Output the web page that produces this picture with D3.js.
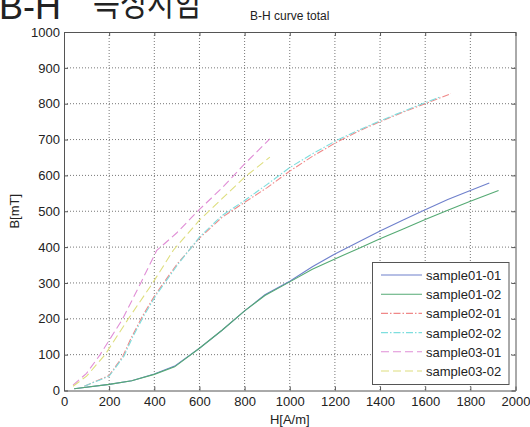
<!DOCTYPE html>
<html>
<head>
<meta charset="utf-8">
<script src="https://cdn.jsdelivr.net/npm/d3@7"></script>
<style>
body { margin: 0; background: #fff; }
text { font-family: "Liberation Sans", Arial, sans-serif; fill: #222; }
</style>
</head>
<body>
<svg id="chart" width="530" height="427"></svg>
<script>
// values
var xTicks = [0, 200, 400, 600, 800, 1000, 1200, 1400, 1600, 1800, 2000];
var yTicks = [0, 100, 200, 300, 400, 500, 600, 700, 800, 900, 1000];

var s0101 = [[45,5],[200,17],[300,27],[400,46],[490,68],[600,118],[700,168],[800,222],[890,267],[1000,305],[1100,345],[1200,381],[1300,413],[1400,445],[1500,475],[1600,504],[1700,533],[1800,558],[1884,579]];
var s0102 = [[45,5],[200,17],[300,27],[400,45],[490,66],[600,118],[700,168],[800,222],[890,265],[1000,303],[1100,338],[1200,367],[1300,395],[1400,423],[1500,450],[1600,477],[1700,503],[1800,528],[1925,558]];
var s0201 = [[90,12],[200,42],[260,95],[300,150],[350,210],[400,263],[450,308],[500,352],[600,425],[700,483],[800,525],[900,566],[1000,612],[1100,653],[1200,690],[1300,722],[1400,750],[1500,776],[1600,800],[1714,828]];
var s0202 = [[90,12],[200,40],[265,95],[305,150],[355,210],[405,263],[455,308],[505,352],[600,428],[700,488],[800,530],[900,575],[1000,622],[1100,660],[1200,695],[1300,725],[1400,752],[1500,778],[1600,803],[1666,819]];
var s0301 = [[40,15],[100,48],[160,100],[260,200],[340,300],[410,390],[500,440],[600,505],[700,565],[800,632],[912,702]];
var s0302 = [[40,12],[100,40],[182,100],[285,200],[393,300],[485,392],[600,475],[700,535],[800,595],[912,651]];

var names = ["sample01-01", "sample01-02", "sample02-01", "sample02-02", "sample03-01", "sample03-02"];
var seriesData = [s0101, s0102, s0201, s0202, s0301, s0302];
var colors = ["#6f80cc", "#55aa74", "#f08888", "#7edede", "#e08ed6", "#dede7e"];
var dashes = [null, null, "7,2,1.5,2", "7,2,1.5,2", "8,4", "8,4"];

var svg = d3.select("#chart");
var pLeft = 64, pRight = 515.5, pTop = 32, pBottom = 390.5;

var x = d3.scaleLinear().domain([0, 2000]).range([pLeft, pRight]);
var y = d3.scaleLinear().domain([0, 1000]).range([pBottom, pTop]);

// page heading, cut by the top edge
svg.append("text").attr("x", -1).attr("y", 19)
  .style("font-family", "'Liberation Sans', Arial, sans-serif")
  .style("font-size", "36px").style("fill", "#222")
  .text("B-H");
svg.append("text").attr("x", 93).attr("y", 16)
  .attr("textLength", 108).attr("lengthAdjust", "spacingAndGlyphs")
  .style("font-family", "'Noto Sans CJK KR', sans-serif")
  .style("font-size", "36px").style("fill", "#222")
  .text("특성시험");

// grid
svg.append("g").selectAll("line").data(xTicks.slice(1, -1)).enter().append("line")
  .attr("x1", function(d) { return x(d); }).attr("x2", function(d) { return x(d); })
  .attr("y1", pTop).attr("y2", pBottom)
  .attr("stroke", "#777").attr("stroke-dasharray", "1,2").attr("stroke-width", 1);
svg.append("g").selectAll("line").data(yTicks.slice(1, -1)).enter().append("line")
  .attr("y1", function(d) { return y(d); }).attr("y2", function(d) { return y(d); })
  .attr("x1", pLeft).attr("x2", pRight)
  .attr("stroke", "#777").attr("stroke-dasharray", "1,2").attr("stroke-width", 1);

// axes
var fmt = d3.format("d");
var xAxis = svg.append("g").attr("transform", "translate(0," + pBottom + ")")
  .call(d3.axisBottom(x).tickValues(xTicks).tickFormat(fmt).tickSizeInner(-4).tickSizeOuter(0).tickPadding(6));
var xTopAxis = svg.append("g").attr("transform", "translate(0," + pTop + ")")
  .call(d3.axisTop(x).tickValues(xTicks).tickSizeInner(-4).tickSizeOuter(0).tickFormat(""));
var yAxis = svg.append("g").attr("transform", "translate(" + pLeft + ",0)")
  .call(d3.axisLeft(y).tickValues(yTicks).tickFormat(fmt).tickSizeInner(-4).tickSizeOuter(0).tickPadding(4));
var yRightAxis = svg.append("g").attr("transform", "translate(" + pRight + ",0)")
  .call(d3.axisRight(y).tickValues(yTicks).tickSizeInner(-4).tickSizeOuter(0).tickFormat(""));

[xAxis, xTopAxis, yAxis, yRightAxis].forEach(function(g) {
  g.select(".domain").attr("stroke", "#555");
  g.selectAll(".tick line").attr("stroke", "#555");
  g.selectAll(".tick text").style("font-size", "13px").style("fill", "#222")
    .style("font-family", "'Liberation Sans', Arial, sans-serif");
});

// curves
var line = d3.line().x(function(d) { return x(d[0]); }).y(function(d) { return y(d[1]); });
svg.append("g").selectAll("path").data(seriesData).enter().append("path")
  .attr("d", line)
  .attr("fill", "none")
  .attr("stroke", function(d, i) { return colors[i]; })
  .attr("stroke-dasharray", function(d, i) { return dashes[i]; })
  .attr("stroke-width", 1.1);

// title and labels
svg.append("text").attr("x", (pLeft + pRight) / 2).attr("y", 20)
  .attr("text-anchor", "middle").style("font-size", "12px").text("B-H curve total");
svg.append("text").attr("x", (pLeft + pRight) / 2).attr("y", 424)
  .attr("text-anchor", "middle").style("font-size", "13px").text("H[A/m]");
svg.append("text").attr("transform", "translate(19," + ((pTop + pBottom) / 2) + ") rotate(-90)")
  .attr("text-anchor", "middle").style("font-size", "13px").text("B[mT]");

// legend
var legend = svg.append("g");
legend.append("rect").attr("x", 372.5).attr("y", 262.5).attr("width", 136.5).attr("height", 122)
  .attr("fill", "#fff").attr("stroke", "#555");
var rows = legend.selectAll("g.row").data(names).enter().append("g").attr("class", "row")
  .attr("transform", function(d, i) { return "translate(0," + (275 + i * 19.2) + ")"; });
rows.append("line").attr("x1", 381).attr("x2", 422).attr("y1", 0).attr("y2", 0)
  .attr("stroke", function(d, i) { return colors[i]; })
  .attr("stroke-dasharray", function(d, i) { return dashes[i]; })
  .attr("stroke-width", 1.1);
rows.append("text").attr("x", 426).attr("y", 5).style("font-size", "13px").text(function(d) { return d; });
</script>
</body>
</html>
